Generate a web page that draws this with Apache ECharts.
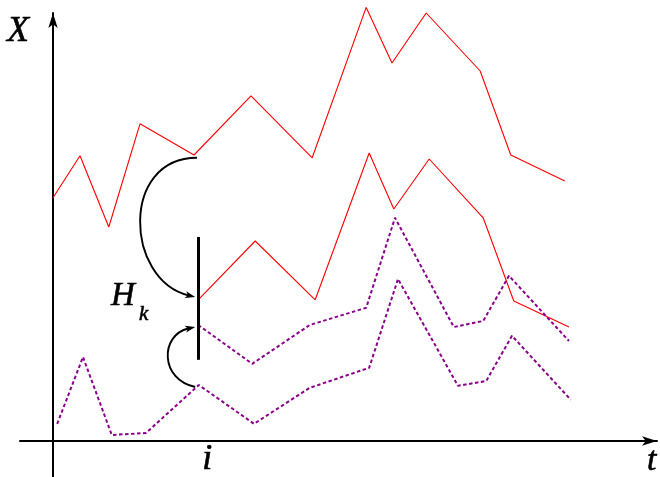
<!DOCTYPE html>
<html><head><meta charset="utf-8">
<script src="https://cdn.jsdelivr.net/npm/echarts@6/dist/echarts.min.js"></script>
<style>html,body{margin:0;padding:0;background:#fff}#c{width:660px;height:477px}</style>
</head><body><div id="c"></div>
<script>
// t (time) and X values
const upperRedT = [0, 4.5, 9.3, 14.5, 23.5, 33, 43.2, 52.2, 56.5, 62.2, 71.2, 76.3, 85.3];
const upperRedX = [60.8, 71.3, 53.5, 79.3, 71.5, 86.3, 70.8, 108.4, 94.5, 107, 92.5, 71.5, 65];
const lowerRedT = [24.2, 33.7, 43.7, 52.7, 56.8, 62.7, 71.7, 76.8, 86];
const lowerRedX = [35.3, 50, 35.3, 72, 58, 70.5, 55.8, 35, 28.5];
const upperPurpleT = [24.2, 33.2, 42.8, 52.2, 57, 66.8, 71.7, 76, 86];
const upperPurpleX = [29, 19.3, 29, 33.3, 55.8, 28.5, 30, 41.3, 25];
const lowerPurpleT = [0.7, 5, 9.8, 15.5, 24.3, 33.5, 42.8, 52.7, 57.5, 67.5, 72.2, 76.5, 86.3];
const lowerPurpleX = [4.3, 21, 1.5, 2, 14, 4.3, 13.3, 18.3, 40.5, 13.8, 15, 26.3, 10.3];
// H_k bar: time index i and its X extent
const barT = 24.2;
const barX = [20.3, 51];
// curved arrows: [start, control1, control2, end] in (t, X)
const bigArc = [[24, 70.8], [11.2, 70.8], [12, 40.3], [23.7, 36]];
const smallArc = [[23.7, 13.5], [17.8, 15.3], [17.8, 26.5], [23.7, 28.5]];

const pairs = (t, x) => t.map((v, i) => [v, x[i]]);
const chart = echarts.init(document.getElementById('c'), null, {renderer: 'canvas'});
const red = {color: '#ff0000', width: 1.1};
const purple = {color: '#8b008b', width: 2, type: [3.5, 2.5]};
const axisCommon = {
  type: 'value',
  axisTick: {show: false}, axisLabel: {show: false}, splitLine: {show: false}
};
function lineSeries(data, style) {
  return {type: 'line', data, symbol: 'none', clip: false, lineStyle: style, silent: true};
}
chart.setOption({
  animation: false,
  grid: {left: 20, right: 3, top: 13, bottom: 0},
  xAxis: Object.assign({}, axisCommon, {min: -5.5, max: 100.67,
    axisLine: {onZero: true, symbol: ['none', 'arrow'], symbolSize: [7, 15], lineStyle: {color: '#000', width: 2}}}),
  yAxis: Object.assign({}, axisCommon, {min: -9, max: 107,
    axisLine: {onZero: true, symbol: ['none', 'arrow'], symbolSize: [7, 15], lineStyle: {color: '#000', width: 2}}}),
  series: [
    lineSeries(pairs(upperRedT, upperRedX), red),
    lineSeries(pairs(lowerRedT, lowerRedX), red),
    lineSeries(pairs(upperPurpleT, upperPurpleX), purple),
    Object.assign(lineSeries(pairs(lowerPurpleT, lowerPurpleX), purple), {
      markLine: {silent: true, symbol: ['none', 'none'], label: {show: false},
        lineStyle: {color: '#000', width: 3, type: 'solid'},
        data: [[{coord: [barT, barX[0]]}, {coord: [barT, barX[1]]}]]}
    })
  ]
});

function px(p) { return chart.convertToPixel({gridIndex: 0}, p); }
function arcGraphics(arc) {
  const [p0, c1, c2, p3] = arc.map(px);
  const dx = p3[0] - c2[0], dy = p3[1] - c2[1];
  const len = Math.hypot(dx, dy), ux = dx / len, uy = dy / len;
  const L = 10, W = 3.5;
  const bx = p3[0] - ux * L, by = p3[1] - uy * L;
  return [
    {type: 'bezierCurve', shape: {x1: p0[0], y1: p0[1], cpx1: c1[0], cpy1: c1[1], cpx2: c2[0], cpy2: c2[1],
      x2: bx + ux * 3, y2: by + uy * 3}, style: {stroke: '#000', lineWidth: 1.9, fill: null}},
    {type: 'polygon', shape: {points: [[p3[0], p3[1]], [bx - uy * W, by + ux * W], [bx + ux * 2.5, by + uy * 2.5], [bx + uy * W, by - ux * W]]},
      style: {fill: '#000'}}
  ];
}
const serif = '"Liberation Serif", "DejaVu Serif", serif';
const iPix = px([barT, 0]);
const txt = (x, y, text, size) => ({type: 'text', style: {x, y, text, font: 'italic ' + size + 'px ' + serif,
  fill: '#000', stroke: '#000', lineWidth: 0.6, textVerticalAlign: 'top'}});
chart.setOption({
  graphic: [
    ...arcGraphics(bigArc), ...arcGraphics(smallArc),
    txt(7, 14, 'X', 36),
    txt(647, 444, 't', 34),
    txt(iPix[0] + 4, 442, 'i', 36),
    txt(111, 280, 'H', 33),
    txt(139, 304, 'k', 21)
  ]
});
</script></body></html>
